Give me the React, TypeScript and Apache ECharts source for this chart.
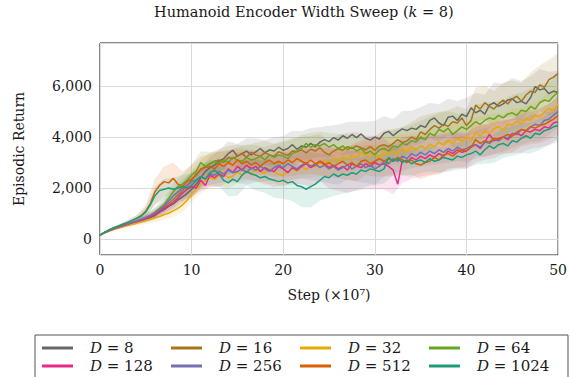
import React, { useEffect, useRef } from "react";
import * as echarts from "echarts";

const seriesNames = ["D = 8", "D = 16", "D = 32", "D = 64", "D = 128", "D = 256", "D = 512", "D = 1024"];
const seriesColors = ["#666666", "#a6761d", "#e6ab02", "#66a61e", "#e7298a", "#7570b3", "#d95f02", "#1b9e77"];
const STEP = 0.5; // mean values sampled every 0.5 (x10^7 steps); spreads every 1
const xTicks = [0, 10, 20, 30, 40, 50];

const meanD8 = [
  150, 250, 330, 400, 460, 515, 570, 620, 670, 720,
  780, 840, 920, 1050, 1150, 1280, 1380, 1520, 1650, 1780,
  1950, 2150, 2400, 2650, 2800, 2900, 3050, 3150, 3350, 3480,
  3250, 3350, 3450, 3300, 3420, 3550, 3380, 3500, 3450, 3600,
  3480, 3550, 3700, 3520, 3650, 3600, 3750, 3620, 3800, 3900,
  3820, 3980, 3880, 4050, 3950, 4100, 3980, 4120, 3950, 3880,
  4000, 3920, 4150, 4220, 4050, 4200, 4320, 4250, 4350, 4300,
  4450, 4380, 4650, 4750, 4550, 4450, 4780, 4820, 4650, 4900,
  4800, 5150, 4950, 5050, 4900, 5250, 5350, 5200, 5300, 5450,
  5500, 5350, 5400, 5300, 5550, 5980, 5850, 5900, 5700, 5800,
  5750,
];
const meanD16 = [
  150, 250, 330, 400, 460, 520, 575, 630, 690, 750,
  820, 900, 1000, 1120, 1250, 1400, 1550, 1720, 1900, 2100,
  2300, 2550, 2700, 2850, 2950, 3050, 3100, 3000, 3200, 3150,
  3250, 3350, 3200, 3400, 3300, 3250, 3380, 3300, 3250, 3420,
  3350, 3280, 3450, 3420, 3500, 3380, 3520, 3450, 3580, 3400,
  3300, 3450, 3550, 3480, 3620, 3550, 3650, 3580, 3500, 3620,
  3480, 3650, 3700, 3620, 3750, 3900, 3780, 3850, 4000, 3900,
  4200, 4100, 4300, 4450, 4350, 4500, 4420, 4600, 4550, 4750,
  4450, 4650, 5250, 5100, 5350, 5200, 5100, 5300, 5450, 5300,
  5500, 5600, 5400, 5650, 5800, 5750, 6050, 5950, 6250, 6350,
  6500,
];
const meanD32 = [
  150, 240, 310, 370, 430, 480, 530, 575, 620, 670,
  720, 770, 830, 880, 950, 1010, 1100, 1200, 1330, 1520,
  1750, 1950, 2150, 2280, 2400, 2330, 2480, 2560, 2400, 2470,
  2620, 2500, 2680, 2560, 2720, 2630, 2580, 2750, 2620, 2540,
  2500, 2640, 2760, 2650, 2850, 2720, 2900, 2830, 2960, 3080,
  2950, 3150, 3070, 3230, 3120, 3280, 3200, 3380, 3290, 3240,
  3350, 3180, 3420, 3300, 3460, 3350, 3560, 3420, 3610, 3500,
  3660, 3540, 3720, 3620, 3800, 3680, 3860, 3730, 3950, 3830,
  4000, 3880, 4160, 4040, 4230, 4150, 4320, 4420, 4260, 4500,
  4470, 4610, 4520, 4700, 4660, 4860, 4790, 4980, 5120, 5040,
  5300,
];
const meanD64 = [
  150, 250, 330, 400, 465, 525, 585, 640, 700, 760,
  830, 930, 1050, 1200, 1350, 1600, 1850, 2050, 2150, 2300,
  2500, 2650, 3000, 2850, 2950, 3050, 2950, 3100, 3000, 3200,
  3100, 3050, 3200, 3100, 3150, 3250, 3100, 3300, 3200, 3300,
  3250, 3150, 3350, 3450, 3550, 3750, 3600, 3700, 3650, 3750,
  3600, 3700, 3550, 3650, 3500, 3600, 3450, 3550, 3350, 3450,
  3300, 3500, 3550, 3450, 3650, 3600, 3750, 3700, 3850, 3800,
  4000, 3900, 4150, 4050, 4300, 4200, 4350, 4100, 4250, 4400,
  4300, 4450, 4600, 4500, 4650, 4750, 4700, 4850, 4750, 4900,
  4950, 4850, 5050, 5000, 5200, 5100, 5350, 5450, 5400, 5600,
  5750,
];
const meanD128 = [
  150, 250, 330, 400, 460, 520, 575, 630, 685, 740,
  800, 870, 950, 1080, 1200, 1320, 1450, 1600, 1800, 1950,
  2050, 2000, 2300, 2100, 2500, 2400, 2550, 2450, 2750, 2600,
  2850, 2700, 2900, 2750, 2850, 2650, 2800, 2700, 2650, 2850,
  2750, 2600, 2800, 2700, 2850, 2950, 2800, 2900, 3050, 2950,
  2800, 2900, 2750, 2850, 2700, 2950, 2850, 2800, 2950, 2850,
  3000, 2900, 2950, 2850, 2700, 2150, 3100, 3000, 3200, 3100,
  3250, 3150, 3300, 3200, 3350, 3250, 3450, 3350, 3500, 3400,
  3450, 3600, 3700, 3550, 3800, 4100, 3850, 3950, 4000, 3900,
  4050, 4150, 4050, 4250, 4200, 4300, 4250, 4400, 4350, 4550,
  4600,
];
const meanD256 = [
  150, 250, 330, 400, 465, 525, 585, 645, 705, 770,
  840, 920, 1020, 1150, 1300, 1500, 1700, 1850, 2000, 2100,
  2250, 2300, 2450, 2350, 2550, 2500, 2650, 2550, 2700, 2600,
  2650, 2750, 2600, 2800, 2700, 2850, 2750, 2650, 2800, 2900,
  2800, 2950, 2850, 2750, 2900, 3000, 2850, 2950, 2800, 2900,
  2750, 2850, 2700, 2800, 2900, 2750, 2850, 2950, 2800, 2900,
  2750, 2850, 3050, 2950, 3150, 3050, 3250, 3150, 3350, 3250,
  3400, 3300, 3450, 3350, 3500, 3400, 3550, 3450, 3600, 3500,
  3550, 3650, 3700, 3600, 3800, 3750, 3900, 3850, 4000, 3950,
  4150, 4100, 4300, 4250, 4400, 4500, 4450, 4650, 4700, 4850,
  5000,
];
const meanD512 = [
  150, 260, 350, 430, 500, 570, 640, 720, 810, 920,
  1100, 1400, 1850, 2100, 2250, 2200, 2380, 2150, 2050, 2250,
  2350, 2500, 2750, 2800, 2850, 2750, 2950, 2850, 3000, 2900,
  3100, 2950, 3050, 2900, 3000, 2850, 3000, 3100, 2950, 3050,
  2950, 3100, 3000, 3150, 3050, 2950, 3100, 2950, 3050, 2900,
  3000, 2850, 2950, 3050, 2900, 3000, 2850, 3050, 3100, 2950,
  3050, 3150, 3050, 3150, 3050, 3200, 3100, 3000, 3100, 2950,
  2900, 3000, 3050, 3200, 3100, 3300, 3350, 3250, 3400, 3500,
  3450, 3600, 3900, 3750, 3850, 3800, 3950, 3900, 4000, 4100,
  4050, 4200, 4300, 4250, 4400, 4350, 4450, 4500, 4600, 4700,
  4850,
];
const meanD1024 = [
  150, 260, 360, 440, 510, 580, 650, 730, 810, 900,
  1050, 1350, 1700, 1900, 1950, 2000, 1950, 2000, 2050, 2000,
  2100, 2300, 2450, 2350, 2600, 2700, 2550, 2300, 2200, 2350,
  2250, 2500, 2650, 2550, 2500, 2400, 2450, 2350, 2300, 2250,
  2300, 2200, 2250, 2100, 2050, 1950, 2050, 2150, 2300, 2450,
  2400, 2550, 2450, 2550, 2500, 2600, 2550, 2700, 2650, 2750,
  2700, 2650, 2750, 3200, 3050, 3150, 3000, 3100, 2950, 3050,
  3100, 3000, 3150, 3050, 3100, 3200, 3150, 3100, 3250, 3200,
  3300, 3350, 3450, 3300, 3500, 3650, 3550, 3700, 3750, 3650,
  3850, 3800, 3950, 4050, 3950, 4150, 4100, 4250, 4300, 4400,
  4450,
];

// half-width of shaded band at each integer step 0..50
const spreadD8 = [20, 40, 60, 80, 100, 130, 170, 220, 260, 300, 350, 380, 420, 450, 470, 480, 500, 520, 500, 540, 560, 550, 580, 600, 580, 620, 600, 640, 620, 650, 640, 680, 660, 700, 680, 720, 700, 740, 720, 760, 740, 780, 760, 800, 780, 820, 800, 840, 820, 860, 850];
const spreadD16 = [20, 40, 60, 80, 100, 130, 180, 230, 280, 330, 380, 400, 420, 440, 450, 460, 470, 480, 470, 490, 500, 510, 500, 520, 530, 520, 540, 550, 560, 550, 570, 580, 570, 600, 590, 620, 610, 640, 630, 660, 650, 680, 670, 700, 690, 720, 710, 740, 760, 780, 800];
const spreadD32 = [20, 35, 50, 70, 90, 120, 160, 200, 240, 280, 320, 350, 380, 400, 420, 430, 440, 450, 460, 450, 470, 480, 470, 490, 500, 490, 510, 520, 510, 530, 540, 530, 550, 560, 550, 570, 580, 570, 590, 600, 590, 610, 620, 610, 630, 640, 630, 650, 660, 670, 680];
const spreadD64 = [20, 40, 60, 80, 100, 140, 200, 260, 320, 380, 420, 440, 460, 480, 490, 500, 510, 520, 510, 530, 540, 550, 540, 560, 570, 560, 580, 590, 580, 600, 610, 600, 620, 630, 620, 640, 650, 640, 660, 670, 660, 680, 690, 680, 700, 710, 700, 720, 730, 740, 750];
const spreadD128 = [20, 40, 60, 80, 100, 130, 170, 220, 270, 320, 380, 420, 460, 500, 520, 540, 560, 580, 600, 620, 640, 660, 700, 740, 780, 820, 860, 900, 950, 1000, 1050, 1000, 950, 900, 850, 800, 780, 760, 740, 720, 700, 700, 690, 680, 680, 670, 670, 660, 660, 650, 650];
const spreadD256 = [20, 40, 60, 80, 100, 130, 170, 220, 270, 320, 360, 400, 420, 440, 450, 460, 470, 480, 490, 500, 510, 520, 530, 540, 550, 560, 570, 580, 590, 600, 610, 600, 590, 580, 570, 560, 560, 550, 550, 540, 540, 540, 550, 560, 570, 580, 590, 600, 610, 620, 630];
const spreadD512 = [20, 40, 60, 90, 130, 250, 500, 600, 620, 600, 550, 500, 480, 470, 460, 460, 470, 480, 490, 500, 510, 520, 530, 540, 550, 560, 570, 580, 590, 600, 610, 600, 590, 580, 570, 560, 570, 580, 590, 600, 610, 620, 630, 640, 650, 660, 670, 680, 690, 700, 710];
const spreadD1024 = [20, 40, 60, 80, 110, 200, 350, 420, 450, 460, 470, 480, 490, 500, 520, 540, 560, 600, 640, 680, 720, 760, 800, 820, 800, 760, 720, 680, 640, 600, 580, 560, 540, 520, 510, 500, 500, 500, 510, 520, 530, 540, 550, 560, 570, 580, 590, 600, 610, 620, 640];

const means = [meanD8, meanD16, meanD32, meanD64, meanD128, meanD256, meanD512, meanD1024];
const spreads = [spreadD8, spreadD16, spreadD32, spreadD64, spreadD128, spreadD256, spreadD512, spreadD1024];

const FONT = "'DejaVu Serif', 'Liberation Serif', serif";
const TXT = "#1a1a1a";

export default function App() {
  const ref = useRef<HTMLDivElement>(null);

  useEffect(() => {
    document.body.style.margin = "0";
    const chart = echarts.init(ref.current!, null, { renderer: "svg" });

    const series: any[] = [];
    const perStep = Math.round(1 / STEP);
    means.forEach((m, i) => {
      const s = spreads[i];
      // band data: [step, lower, upper]
      const band = s.map((d, k) => [k, m[k * perStep] - d, m[k * perStep] + d]);
      series.push({
        type: "custom",
        silent: true,
        clip: true,
        z: 1,
        data: [[0, 0]],
        encode: { x: 0, y: 1 },
        renderItem: (_params: any, api: any) => {
          const upper = band.map((b) => api.coord([b[0], b[2]]));
          const lower = band.map((b) => api.coord([b[0], b[1]])).reverse();
          return {
            type: "polygon",
            shape: { points: upper.concat(lower) },
            style: { fill: seriesColors[i], opacity: 0.14 },
          };
        },
      });
    });
    means.forEach((m, i) => {
      series.push({
        name: seriesNames[i],
        type: "line",
        data: m.map((v, j) => [j * STEP, v]),
        symbol: "none",
        lineStyle: { width: 1.5, color: seriesColors[i] },
        itemStyle: { color: seriesColors[i] },
        z: 3,
      });
    });

    chart.setOption({
      animation: false,
      title: {
        text: "Humanoid Encoder Width Sweep ({it|k} = 8)",
        left: 149,
        top: -1,
        textStyle: {
          fontFamily: FONT,
          fontSize: 14.5,
          fontWeight: "normal",
          color: TXT,
          rich: { it: { fontFamily: FONT, fontSize: 14.5, fontStyle: "italic", color: TXT } },
        },
      },
      grid: {
        left: 100,
        right: 8,
        top: 43,
        bottom: 122,
        show: true,
        borderColor: "#1a1a1a",
        borderWidth: 1,
      },
      legend: {
        data: seriesNames,
        left: 35,
        top: 335,
        width: 522,
        orient: "horizontal",
        padding: [4, 10, 10, 7],
        borderColor: "#555",
        borderWidth: 1,
        icon: "rect",
        itemWidth: 31,
        itemHeight: 3,
        itemGap: 0,
        selectedMode: false,
        formatter: (n: string) => "{it|D}" + n.slice(1),
        textStyle: {
          fontFamily: FONT,
          fontSize: 15,
          color: TXT,
          width: 81,
          lineHeight: 18,
          padding: [0, 0, 0, 12],
          rich: { it: { fontFamily: FONT, fontSize: 15, fontStyle: "italic", color: TXT } },
        },
      },
      xAxis: {
        type: "value",
        min: xTicks[0],
        max: xTicks[xTicks.length - 1],
        interval: 10,
        axisLine: { show: false },
        axisTick: { show: false },
        splitLine: { lineStyle: { color: "#dadada", width: 1 } },
        axisLabel: { fontFamily: FONT, fontSize: 14, color: TXT, margin: 8 },
        name: "Step (×10⁷)",
        nameLocation: "middle",
        nameGap: 33,
        nameTextStyle: { fontFamily: FONT, fontSize: 14, color: TXT },
      },
      yAxis: {
        type: "value",
        min: -630,
        max: 7690,
        splitNumber: 4,
        axisLine: { show: false },
        axisTick: { show: false },
        splitLine: { lineStyle: { color: "#dadada", width: 1 } },
        axisLabel: {
          fontFamily: FONT,
          fontSize: 14,
          color: TXT,
          margin: 8,
          showMinLabel: false,
          showMaxLabel: false,
          formatter: (v: number) => (Math.abs(v) < 1e-6 ? "0" : v.toLocaleString("en-US")),
        },
        name: "Episodic Return",
        nameLocation: "middle",
        nameGap: 74,
        nameRotate: 90,
        nameTextStyle: { fontFamily: FONT, fontSize: 14, color: TXT },
      },
      series,
    });

    return () => chart.dispose();
  }, []);

  return <div ref={ref} style={{ width: 570, height: 377 }} />;
}
